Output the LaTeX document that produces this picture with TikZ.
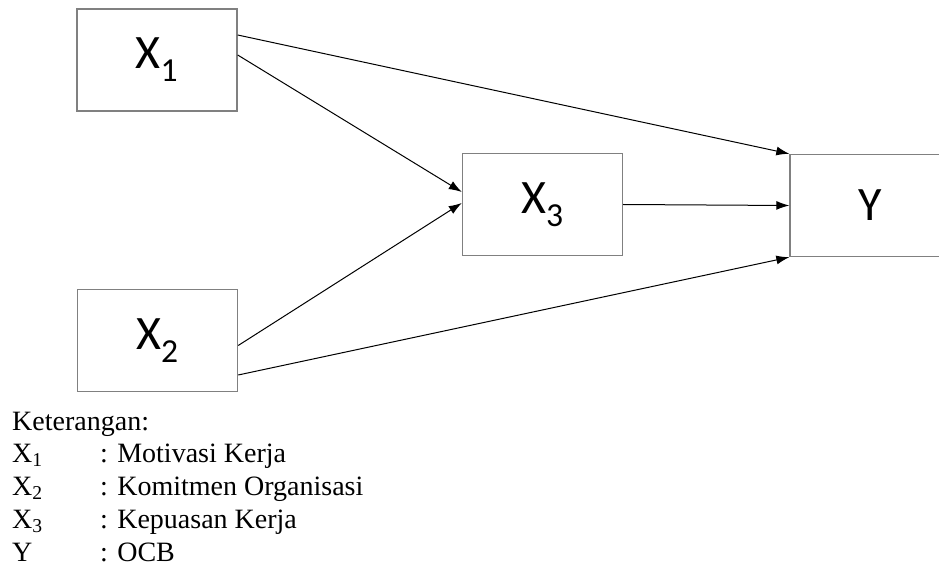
\documentclass[tikz,border=0pt]{standalone}
\usepackage{fontspec}
\setmainfont{Liberation Serif}
\newfontfamily\boxfont{Carlito}
\usetikzlibrary{arrows.meta}
\begin{document}
\begin{tikzpicture}[x=1pt,y=-1pt,
  varbox/.style={draw=black!50,line width=1.4pt,fill=white,minimum width=160pt,minimum height=102pt,inner sep=0pt,font=\boxfont\fontsize{48}{56}\selectfont},
  conn/.style={line width=1pt,-{Latex[length=13pt,width=9pt]}},
  legend/.style={anchor=base west,inner sep=0pt,font=\fontsize{28}{32}\selectfont}]
\useasboundingbox (0,0) rectangle (939,569);
\begin{scope}
\clip (0,0) rectangle (939,569);
\node[varbox] (x1) at (157,60) {X\textsubscript{1}};
\node[varbox] (x2) at (157.5,340.5) {X\textsubscript{2}};
\node[varbox] (x3) at (542.5,204.5) {X\textsubscript{3}};
\node[varbox] (y) at (870,205.5) {Y};
\end{scope}
\coordinate (a1) at ([yshift=25pt]x1.east);
\coordinate (a2) at ([yshift=5pt]x1.east);
\coordinate (b1) at ([yshift=-5pt]x2.east);
\coordinate (b2) at ([yshift=-34.5pt]x2.east);
\coordinate (c1) at ([yshift=12.5pt]x3.west);
\coordinate (c2) at ([yshift=1.5pt]x3.west);
\draw[conn] (a1) -- (y.north west);
\draw[conn] (a2) -- (c1);
\draw[conn] (b1) -- (c2);
\draw[conn] (b2) -- (y.south west);
\draw[conn] (x3.east) -- (y.west);
\node[legend] (k) at (12,430) {Keterangan:};
\node[legend] (l1) at (12,462) {X\textsubscript{1}};
\node[legend] (l2) at (12,495) {X\textsubscript{2}};
\node[legend] (l3) at (12,528) {X\textsubscript{3}};
\node[legend] (l4) at (12,561) {Y};
\node[legend] (d1) at (100,462) {: Motivasi Kerja};
\node[legend] (d2) at (100,495) {: Komitmen Organisasi};
\node[legend] (d3) at (100,528) {: Kepuasan Kerja};
\node[legend] (d4) at (100,561) {: OCB};
\end{tikzpicture}
\end{document}
